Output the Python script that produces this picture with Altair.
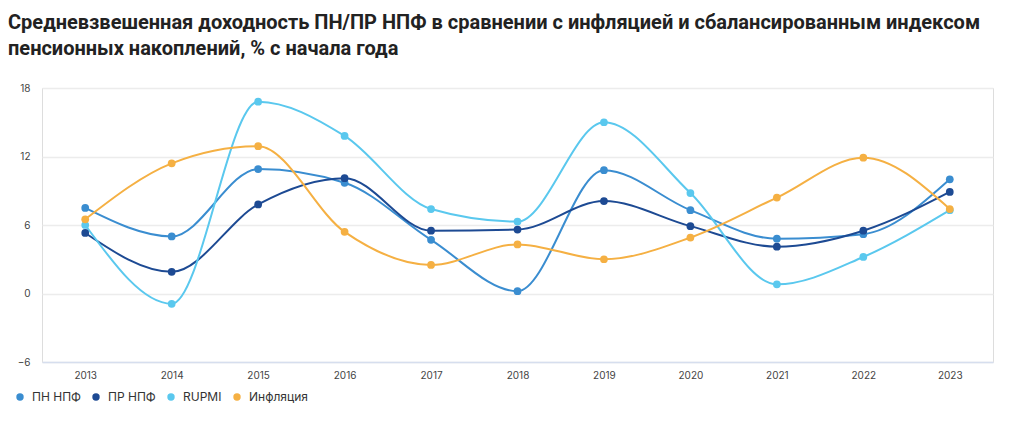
import altair as alt
import pandas as pd

years = ["2013", "2014", "2015", "2016", "2017", "2018", "2019", "2020", "2021", "2022", "2023"]
pn_npf = [7.5, 5.0, 10.9, 9.7, 4.7, 0.2, 10.8, 7.3, 4.8, 5.2, 10.0]
pr_npf = [5.3, 1.9, 7.8, 10.1, 5.5, 5.6, 8.1, 5.9, 4.1, 5.5, 8.9]
rupmi = [6.0, -0.9, 16.8, 13.8, 7.4, 6.3, 15.0, 8.8, 0.8, 3.2, 7.3]
inflation = [6.5, 11.4, 12.9, 5.4, 2.5, 4.3, 3.0, 4.9, 8.4, 11.9, 7.4]

series_names = ["ПН НПФ", "ПР НПФ", "RUPMI", "Инфляция"]
series_colors = ["#3a8dd0", "#1d4a93", "#5ac8ee", "#f5b043"]

rows = []
for name, vals in zip(series_names, [pn_npf, pr_npf, rupmi, inflation]):
    for i, (yr, v) in enumerate(zip(years, vals)):
        rows.append({"year": yr, "value": v, "series": name, "order": i})
df = pd.DataFrame(rows)

font = "Inter"

x_enc = alt.X("year:O", sort=years,
              scale=alt.Scale(type="point", padding=0.5),
              axis=alt.Axis(title=None, labelAngle=0, ticks=False, domain=True,
                            domainColor="#d6deee", domainWidth=1.5,
                            labelFontSize=10, labelColor="#444", labelPadding=8,
                            labelFont=font, grid=False))
y_enc = alt.Y("value:Q",
              scale=alt.Scale(domain=[-6, 18], nice=False, zero=False),
              axis=alt.Axis(title=None, values=[-6, 0, 6, 12, 18], ticks=False,
                            domain=False, labelFontSize=10, labelColor="#444",
                            labelPadding=12, labelFont=font,
                            gridColor="#ececec", gridWidth=1.5))
color_enc = alt.Color("series:N",
                      scale=alt.Scale(domain=series_names, range=series_colors),
                      legend=alt.Legend(title=None, orient="none", direction="horizontal",
                                        legendX=-28, legendY=303,
                                        symbolType="circle", symbolSize=55,
                                        symbolStrokeWidth=0, labelFontSize=12,
                                        labelFont=font, labelColor="#333",
                                        columnPadding=9, labelOffset=6))

base = alt.Chart(df).encode(x=x_enc, y=y_enc, color=color_enc, detail="series:N", order="order:Q")

lines = base.mark_line(interpolate="monotone", strokeWidth=2)
points = base.mark_circle(size=60, opacity=1)

chart = alt.layer(lines, points).properties(
    width=951, height=274,
    title=alt.TitleParams(
        text=["Средневзвешенная доходность ПН/ПР НПФ в сравнении с инфляцией и сбалансированным индексом",
              "пенсионных накоплений, % с начала года"],
        anchor="start", frame="group", dx=-34, fontSize=20, fontWeight="bold",
        font="Roboto", color="#222", lineHeight=26, offset=24),
    autosize=alt.AutoSizeParams(type="none"),
    padding={"left": 34, "top": 80, "right": 15, "bottom": 56},
).configure_view(stroke=None).configure(background="white")

chart.save("out.html", embed_options={"renderer": "svg", "actions": False})
